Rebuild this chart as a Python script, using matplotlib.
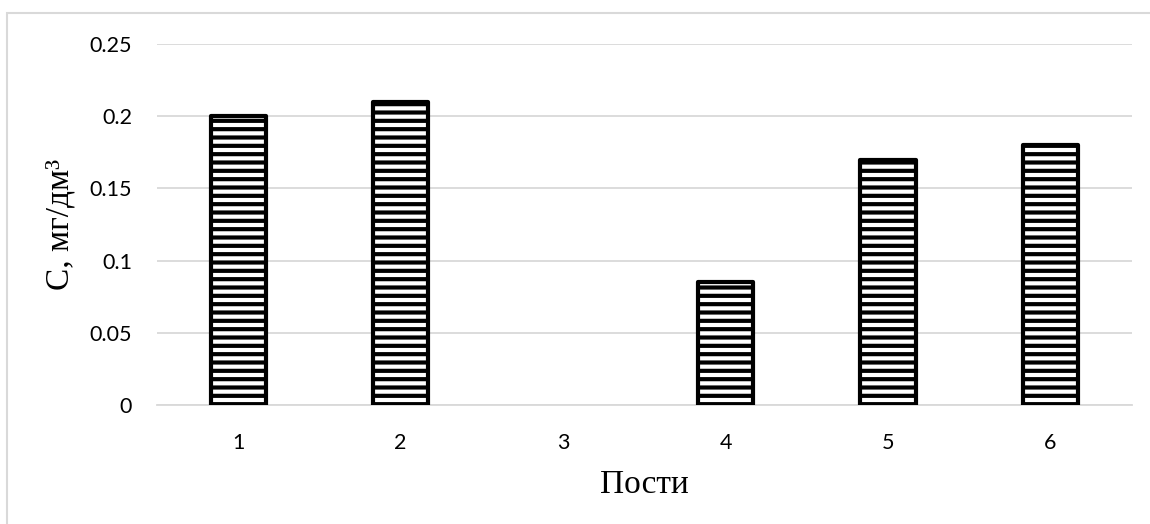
import numpy as np
import matplotlib.pyplot as plt
from matplotlib.patches import Rectangle

posts = ['1', '2', '3', '4', '5', '6']
conc = [0.2, 0.21, np.nan, 0.085, 0.17, 0.18]
yticks = [0, 0.05, 0.1, 0.15, 0.2, 0.25]
ytick_labels = ['0', '0.05', '0.1', '0.15', '0.2', '0.25']

plt.rcParams['hatch.linewidth'] = 3.0
plt.rcParams['hatch.color'] = 'black'

fig = plt.figure(figsize=(11.5, 5.24), dpi=100)
ax = fig.add_axes([0.1365, 0.227, 0.8475, 0.689])

x = np.arange(len(posts))
vals = np.array(conc, dtype=float)
mask = ~np.isnan(vals)
ax.bar(x[mask], vals[mask], width=0.34, color='white', edgecolor='black',
       linewidth=3.0, hatch='--', joinstyle='round', zorder=3)

ax.set_xlim(-0.5, len(posts) - 0.5)
ax.set_ylim(0, 0.25)
ax.set_xticks(x)
ax.set_xticklabels(posts, fontfamily='Lato', fontsize=15.5)
ax.set_yticks(yticks)
ax.set_yticklabels(ytick_labels, fontfamily='Lato', fontsize=15.5)
ax.tick_params(axis='both', length=0)
ax.tick_params(axis='y', pad=18)
ax.tick_params(axis='x', pad=20)

ax.grid(axis='y', color='#d9d9d9', linewidth=1.3, zorder=0)
for s in ['top', 'right', 'left']:
    ax.spines[s].set_visible(False)
ax.spines['bottom'].set_color('#d9d9d9')
ax.spines['bottom'].set_linewidth(1.3)

ax.set_xlabel('Пости', fontfamily='Liberation Serif', fontsize=24, labelpad=12)
ax.set_ylabel('С, мг/дм³', fontfamily='Liberation Serif', fontsize=24, labelpad=10)

fig.patches.append(Rectangle((0.006, -0.05), 1.1, 0.975 + 0.05, transform=fig.transFigure,
                             fill=False, edgecolor='#d9d9d9', linewidth=1.5))

fig.savefig('out.png', dpi=100)
